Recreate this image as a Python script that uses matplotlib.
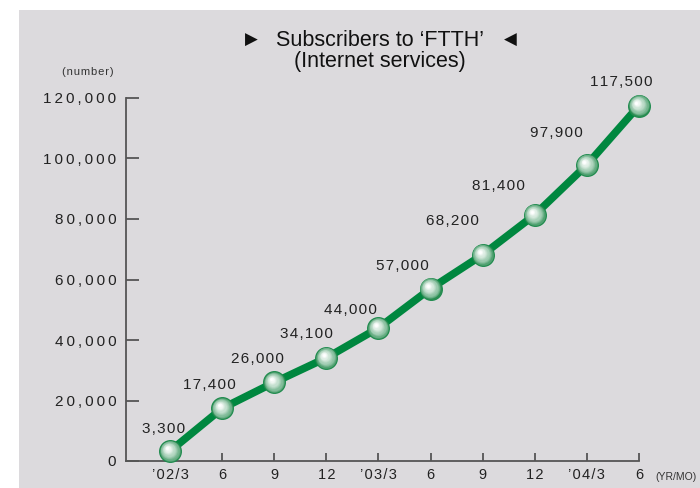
import matplotlib.pyplot as plt
import numpy as np
from matplotlib.patches import Rectangle
from matplotlib.transforms import ScaledTranslation
from matplotlib.colors import to_rgb

plt.rcParams['font.family'] = ['Liberation Sans', 'DejaVu Sans']

# data
periods = ["\u201902/3", "6", "9", "12", "\u201903/3", "6", "9", "12", "\u201904/3", "6"]
subscribers = [3300, 17400, 26000, 34100, 44000, 57000, 68200, 81400, 97900, 117500]
yticks = [0, 20000, 40000, 60000, 80000, 100000, 120000]

# label offsets in points (dx, dy)
offsets = [(-5, 16), (-9, 17), (-12, 17), (-14, 17), (-20, 13), (-20, 16), (-22, 24), (-26, 21), (-22, 23), (-13, 17)]


def spaced(s, sep='\u200a'):
    return sep.join(s)


W, H = 700, 488
fig = plt.figure(figsize=(7, 4.88), dpi=100)
fig.patch.set_facecolor('white')
bg = '#dcdadd'
fig.patches.append(Rectangle((19 / W, 0), 1, 1 - 10 / H, transform=fig.transFigure,
                             facecolor=bg, edgecolor='none', zorder=-10))

ax = fig.add_axes([126 / W, 27 / H, (639 - 126) / W, (461 - 98) / H])
ax.set_facecolor('none')
x = list(range(len(subscribers)))
ax.set_xlim(-0.845, 9)
ax.set_ylim(0, 120000)

for s in ['top', 'right']:
    ax.spines[s].set_visible(False)
for s in ['left', 'bottom']:
    ax.spines[s].set_color('#555555')
    ax.spines[s].set_linewidth(1.3)

ax.set_yticks(yticks)
ax.set_yticklabels([spaced(f"{v:,}", '\u2009') for v in yticks], fontsize=11, color='#222222')
ax.set_xticks(x)
ax.set_xticklabels([spaced(p) for p in periods], fontsize=10.5, color='#222222')
ax.tick_params(axis='y', direction='in', length=9, width=1.3, color='#555555', pad=7)
ax.tick_params(axis='x', direction='in', length=5.5, width=1.3, color='#555555', pad=5)

green = '#00873f'
ax.plot(x, subscribers, color=green, linewidth=5.5, solid_capstyle='round', zorder=3, clip_on=False)

# spherical markers: stacked circles fading from green rim to a white highlight
ax.plot(x, subscribers, linestyle='none', marker='o', markersize=16.5,
        markerfacecolor='#1b8a4c', markeredgecolor='none', zorder=4, clip_on=False)
rim = np.array(to_rgb('#2a8d52'))
white = np.array([1.0, 1.0, 1.0])
n = 18
for i in range(n):
    t = i / (n - 1)
    size = 15.5 - 13.5 * t
    col = rim + (white - rim) * (t ** 0.6)
    dx, dy = -2.0 * t, 2.2 * t
    tr = ax.transData + ScaledTranslation(dx / 72, dy / 72, fig.dpi_scale_trans)
    ax.plot(x, subscribers, linestyle='none', marker='o', markersize=size,
            markerfacecolor=col, markeredgecolor='none', transform=tr, zorder=4, clip_on=False)

for xi, v, (dx, dy) in zip(x, subscribers, offsets):
    ax.annotate(spaced(f"{v:,}"), (xi, v), xytext=(dx, dy), textcoords='offset points',
                ha='center', va='center', fontsize=11, color='#222222')

fig.text(88 / W, 1 - 72 / H, spaced('(number)'), fontsize=8, ha='center', va='center', color='#333333')
fig.text(655 / W, 1 - 477 / H, '(YR/MO)', fontsize=7.5, ha='left', va='center', color='#333333')

fig.text(251 / W, 1 - 40 / H, '\u25B6', fontsize=12, ha='center', va='center', color='#111111',
         family='DejaVu Sans')
fig.text(510 / W, 1 - 40 / H, '\u25C0', fontsize=12, ha='center', va='center', color='#111111',
         family='DejaVu Sans')
fig.text(380 / W, 1 - 40 / H, 'Subscribers to \u2018FTTH\u2019', fontsize=15.5,
         ha='center', va='center', color='#111111')
fig.text(380 / W, 1 - 62 / H, '(Internet services)', fontsize=15.5,
         ha='center', va='center', color='#111111')

fig.savefig('out.png', dpi=100, facecolor=fig.get_facecolor())
